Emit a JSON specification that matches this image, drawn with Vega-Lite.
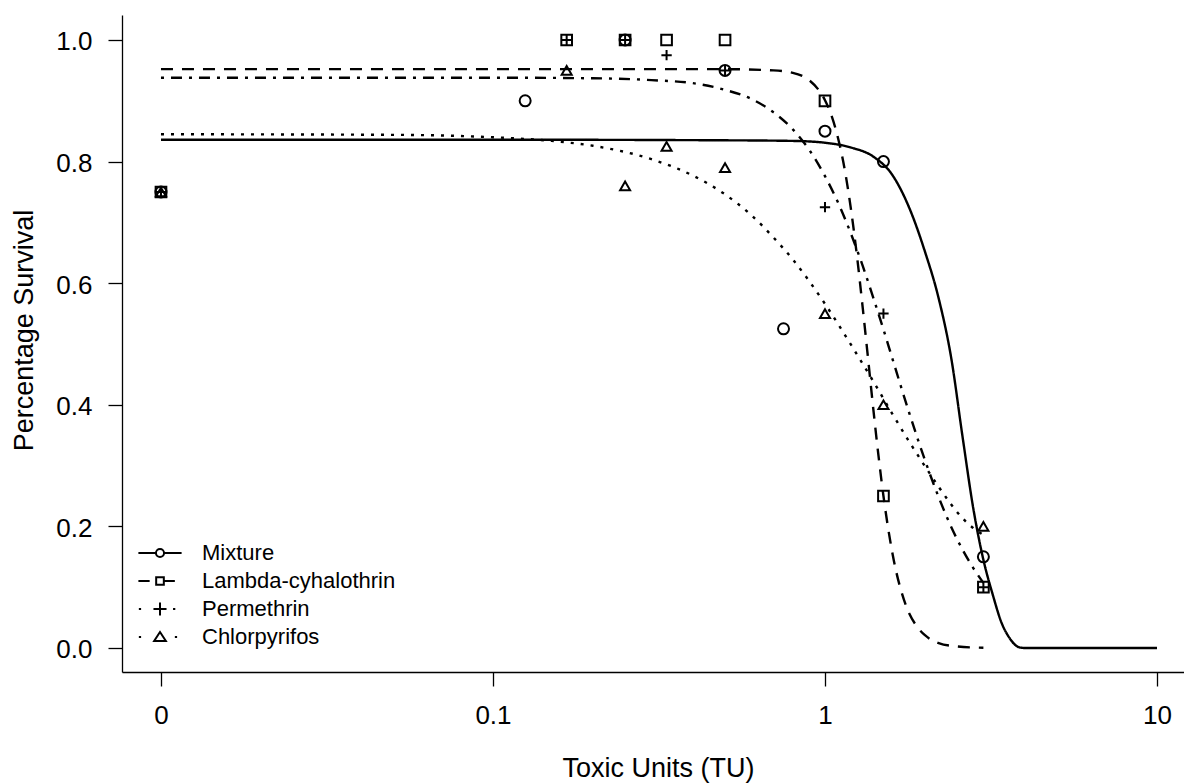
{
  "$schema": "https://vega.github.io/schema/vega-lite/v6.json",
  "width": 1062,
  "height": 657,
  "autosize": {"type": "none"},
  "padding": {"left": 122, "top": 15, "right": 0, "bottom": 111},
  "background": "white",
  "config": {
    "view": {"stroke": null},
    "font": "Liberation Sans",
    "axis": {
      "grid": false,
      "domainColor": "black",
      "domainWidth": 1.3,
      "tickColor": "black",
      "tickWidth": 1.3,
      "labelColor": "black",
      "titleColor": "black",
      "labelFont": "Liberation Sans",
      "titleFont": "Liberation Sans",
      "titleFontWeight": "normal",
      "labelFontSize": 26,
      "titleFontSize": 27
    },
    "legend": {"labelFont": "Liberation Sans"}
  },
  "datasets": {
    "curves": [
      {"series": "Mixture", "x": 0.01, "y": 0.836},
      {"series": "Mixture", "x": 0.1, "y": 0.836},
      {"series": "Mixture", "x": 0.5, "y": 0.835},
      {"series": "Mixture", "x": 0.8, "y": 0.834},
      {"series": "Mixture", "x": 1.0, "y": 0.831},
      {"series": "Mixture", "x": 1.2, "y": 0.823},
      {"series": "Mixture", "x": 1.4, "y": 0.808},
      {"series": "Mixture", "x": 1.6, "y": 0.777},
      {"series": "Mixture", "x": 1.8, "y": 0.722},
      {"series": "Mixture", "x": 2.0, "y": 0.652},
      {"series": "Mixture", "x": 2.2, "y": 0.575},
      {"series": "Mixture", "x": 2.4, "y": 0.477},
      {"series": "Mixture", "x": 2.6, "y": 0.345},
      {"series": "Mixture", "x": 2.8, "y": 0.228},
      {"series": "Mixture", "x": 3.0, "y": 0.145},
      {"series": "Mixture", "x": 3.2, "y": 0.088},
      {"series": "Mixture", "x": 3.4, "y": 0.042},
      {"series": "Mixture", "x": 3.6, "y": 0.016},
      {"series": "Mixture", "x": 3.85, "y": 0.001},
      {"series": "Mixture", "x": 4.0, "y": 0.0},
      {"series": "Mixture", "x": 10, "y": 0.0},
      {"series": "Lambda-cyhalothrin", "x": 0.01, "y": 0.952},
      {"series": "Lambda-cyhalothrin", "x": 0.1, "y": 0.952},
      {"series": "Lambda-cyhalothrin", "x": 0.5, "y": 0.952},
      {"series": "Lambda-cyhalothrin", "x": 0.7, "y": 0.95},
      {"series": "Lambda-cyhalothrin", "x": 0.8, "y": 0.946},
      {"series": "Lambda-cyhalothrin", "x": 0.9, "y": 0.933},
      {"series": "Lambda-cyhalothrin", "x": 0.95, "y": 0.92},
      {"series": "Lambda-cyhalothrin", "x": 1.0, "y": 0.901},
      {"series": "Lambda-cyhalothrin", "x": 1.05, "y": 0.873},
      {"series": "Lambda-cyhalothrin", "x": 1.1, "y": 0.834},
      {"series": "Lambda-cyhalothrin", "x": 1.15, "y": 0.783},
      {"series": "Lambda-cyhalothrin", "x": 1.2, "y": 0.718},
      {"series": "Lambda-cyhalothrin", "x": 1.25, "y": 0.642},
      {"series": "Lambda-cyhalothrin", "x": 1.3, "y": 0.558},
      {"series": "Lambda-cyhalothrin", "x": 1.35, "y": 0.473},
      {"series": "Lambda-cyhalothrin", "x": 1.4, "y": 0.39},
      {"series": "Lambda-cyhalothrin", "x": 1.45, "y": 0.315},
      {"series": "Lambda-cyhalothrin", "x": 1.5, "y": 0.25},
      {"series": "Lambda-cyhalothrin", "x": 1.6, "y": 0.153},
      {"series": "Lambda-cyhalothrin", "x": 1.75, "y": 0.071},
      {"series": "Lambda-cyhalothrin", "x": 1.9, "y": 0.034},
      {"series": "Lambda-cyhalothrin", "x": 2.0, "y": 0.021},
      {"series": "Lambda-cyhalothrin", "x": 2.2, "y": 0.008},
      {"series": "Lambda-cyhalothrin", "x": 2.5, "y": 0.0025},
      {"series": "Lambda-cyhalothrin", "x": 3.0, "y": 0.0004},
      {"series": "Permethrin", "x": 0.01, "y": 0.938},
      {"series": "Permethrin", "x": 0.1, "y": 0.938},
      {"series": "Permethrin", "x": 0.2, "y": 0.937},
      {"series": "Permethrin", "x": 0.3, "y": 0.934},
      {"series": "Permethrin", "x": 0.4, "y": 0.929},
      {"series": "Permethrin", "x": 0.5, "y": 0.918},
      {"series": "Permethrin", "x": 0.6, "y": 0.903},
      {"series": "Permethrin", "x": 0.7, "y": 0.881},
      {"series": "Permethrin", "x": 0.8, "y": 0.853},
      {"series": "Permethrin", "x": 0.9, "y": 0.818},
      {"series": "Permethrin", "x": 1.0, "y": 0.776},
      {"series": "Permethrin", "x": 1.1, "y": 0.73},
      {"series": "Permethrin", "x": 1.2, "y": 0.68},
      {"series": "Permethrin", "x": 1.3, "y": 0.628},
      {"series": "Permethrin", "x": 1.4, "y": 0.575},
      {"series": "Permethrin", "x": 1.5, "y": 0.524},
      {"series": "Permethrin", "x": 1.6, "y": 0.474},
      {"series": "Permethrin", "x": 1.8, "y": 0.384},
      {"series": "Permethrin", "x": 2.0, "y": 0.309},
      {"series": "Permethrin", "x": 2.2, "y": 0.248},
      {"series": "Permethrin", "x": 2.4, "y": 0.199},
      {"series": "Permethrin", "x": 2.6, "y": 0.161},
      {"series": "Permethrin", "x": 2.8, "y": 0.131},
      {"series": "Permethrin", "x": 3.0, "y": 0.107},
      {"series": "Chlorpyrifos", "x": 0.01, "y": 0.845},
      {"series": "Chlorpyrifos", "x": 0.05, "y": 0.844},
      {"series": "Chlorpyrifos", "x": 0.1, "y": 0.84},
      {"series": "Chlorpyrifos", "x": 0.15, "y": 0.834},
      {"series": "Chlorpyrifos", "x": 0.2, "y": 0.826},
      {"series": "Chlorpyrifos", "x": 0.3, "y": 0.804},
      {"series": "Chlorpyrifos", "x": 0.4, "y": 0.777},
      {"series": "Chlorpyrifos", "x": 0.5, "y": 0.746},
      {"series": "Chlorpyrifos", "x": 0.6, "y": 0.712},
      {"series": "Chlorpyrifos", "x": 0.7, "y": 0.675},
      {"series": "Chlorpyrifos", "x": 0.8, "y": 0.639},
      {"series": "Chlorpyrifos", "x": 0.9, "y": 0.602},
      {"series": "Chlorpyrifos", "x": 1.0, "y": 0.566},
      {"series": "Chlorpyrifos", "x": 1.2, "y": 0.498},
      {"series": "Chlorpyrifos", "x": 1.4, "y": 0.438},
      {"series": "Chlorpyrifos", "x": 1.6, "y": 0.384},
      {"series": "Chlorpyrifos", "x": 1.8, "y": 0.338},
      {"series": "Chlorpyrifos", "x": 2.0, "y": 0.299},
      {"series": "Chlorpyrifos", "x": 2.2, "y": 0.265},
      {"series": "Chlorpyrifos", "x": 2.4, "y": 0.236},
      {"series": "Chlorpyrifos", "x": 2.6, "y": 0.213},
      {"series": "Chlorpyrifos", "x": 2.8, "y": 0.197},
      {"series": "Chlorpyrifos", "x": 3.0, "y": 0.186}
    ],
    "points": [
      {"series": "Mixture", "x": 0.01, "y": 0.75},
      {"series": "Mixture", "x": 0.125, "y": 0.9},
      {"series": "Mixture", "x": 0.25, "y": 1.0},
      {"series": "Mixture", "x": 0.5, "y": 0.95},
      {"series": "Mixture", "x": 0.75, "y": 0.525},
      {"series": "Mixture", "x": 1.0, "y": 0.85},
      {"series": "Mixture", "x": 1.5, "y": 0.8},
      {"series": "Mixture", "x": 3.0, "y": 0.15},
      {"series": "Lambda-cyhalothrin", "x": 0.01, "y": 0.75},
      {"series": "Lambda-cyhalothrin", "x": 0.1667, "y": 1.0},
      {"series": "Lambda-cyhalothrin", "x": 0.25, "y": 1.0},
      {"series": "Lambda-cyhalothrin", "x": 0.3333, "y": 1.0},
      {"series": "Lambda-cyhalothrin", "x": 0.5, "y": 1.0},
      {"series": "Lambda-cyhalothrin", "x": 1.0, "y": 0.9},
      {"series": "Lambda-cyhalothrin", "x": 1.5, "y": 0.25},
      {"series": "Lambda-cyhalothrin", "x": 3.0, "y": 0.1},
      {"series": "Permethrin", "x": 0.01, "y": 0.75},
      {"series": "Permethrin", "x": 0.1667, "y": 1.0},
      {"series": "Permethrin", "x": 0.25, "y": 1.0},
      {"series": "Permethrin", "x": 0.3333, "y": 0.975},
      {"series": "Permethrin", "x": 0.5, "y": 0.95},
      {"series": "Permethrin", "x": 1.0, "y": 0.725},
      {"series": "Permethrin", "x": 1.5, "y": 0.55},
      {"series": "Permethrin", "x": 3.0, "y": 0.1},
      {"series": "Chlorpyrifos", "x": 0.01, "y": 0.75},
      {"series": "Chlorpyrifos", "x": 0.1667, "y": 0.95},
      {"series": "Chlorpyrifos", "x": 0.25, "y": 0.76},
      {"series": "Chlorpyrifos", "x": 0.3333, "y": 0.825},
      {"series": "Chlorpyrifos", "x": 0.5, "y": 0.79},
      {"series": "Chlorpyrifos", "x": 1.0, "y": 0.55},
      {"series": "Chlorpyrifos", "x": 1.5, "y": 0.4},
      {"series": "Chlorpyrifos", "x": 3.0, "y": 0.2}
    ]
  },
  "encoding": {
    "x": {
      "field": "x",
      "type": "quantitative",
      "scale": {"type": "log", "domain": [0.007631, 12.06], "nice": false, "zero": false},
      "axis": {
        "values": [0.01, 0.1, 1, 10],
        "format": "~g",
        "labelExpr": "datum.value < 0.05 ? '0' : datum.label",
        "tickSize": 14,
        "labelPadding": 16,
        "title": "Toxic Units (TU)",
        "titleX": 536,
        "titleY": 104,
        "titleAnchor": "middle",
        "titleAlign": "center",
        "titleBaseline": "alphabetic"
      }
    },
    "y": {
      "field": "y",
      "type": "quantitative",
      "scale": {"domain": [-0.0395, 1.0411], "nice": false, "zero": false},
      "axis": {
        "values": [0, 0.2, 0.4, 0.6, 0.8, 1.0],
        "format": ".1f",
        "tickSize": 14,
        "labelPadding": 16,
        "labelOffset": 2,
        "title": "Percentage Survival",
        "titleAngle": 270,
        "titleX": -90,
        "titleY": 315,
        "titleAlign": "center",
        "titleBaseline": "alphabetic"
      }
    }
  },
  "layer": [
    {
      "data": {"name": "curves"},
      "mark": {"type": "line", "color": "black", "strokeWidth": 2.4, "strokeCap": "butt", "interpolate": "monotone", "clip": true},
      "encoding": {
        "strokeDash": {
          "field": "series",
          "type": "nominal",
          "scale": {
            "domain": ["Mixture", "Lambda-cyhalothrin", "Permethrin", "Chlorpyrifos"],
            "range": [[1, 0], [12, 9], [3, 7, 11, 7], [3, 7]]
          },
          "legend": null
        }
      }
    },
    {
      "data": {"name": "points"},
      "mark": {"type": "point", "filled": false, "color": "black", "strokeWidth": 2, "opacity": 1},
      "encoding": {
        "shape": {
          "field": "series",
          "type": "nominal",
          "scale": {
            "domain": ["Mixture", "Lambda-cyhalothrin", "Permethrin", "Chlorpyrifos"],
            "range": ["circle", "square", "M-1,0L1,0M0,-1L0,1", "triangle-up"]
          },
          "legend": null
        },
        "size": {
          "field": "series",
          "type": "nominal",
          "scale": {
            "domain": ["Mixture", "Lambda-cyhalothrin", "Permethrin", "Chlorpyrifos"],
            "range": [121, 100, 196, 120]
          },
          "legend": null
        }
      }
    },
    {
      "data": {"name": "points"},
      "mark": {"type": "point", "filled": false, "color": "black", "strokeWidth": 2, "opacity": 0},
      "encoding": {
        "shape": {
          "field": "series",
          "type": "nominal",
          "scale": {
            "domain": ["Mixture", "Lambda-cyhalothrin", "Permethrin", "Chlorpyrifos"],
            "range": [
              "M-4.8,0L-0.9,0M0.9,0L4.8,0M0.9,0A0.9,0.9,0,1,1,-0.9,0A0.9,0.9,0,1,1,0.9,0",
              "M-4.8,0L-2.3,0M-0.85,-0.85L0.85,-0.85L0.85,0.85L-0.85,0.85ZM0.85,0L3.3,0",
              "M-4.7,0L-4.2,0M-1.45,0L1.45,0M0,-1.45L0,1.45M2.9,0L3.4,0",
              "M-4.7,0L-4.2,0M0,-1.1L-1.3,0.9L1.3,0.9ZM3.3,0L3.8,0"
            ]
          },
          "legend": {
            "orient": "none",
            "legendX": 27,
            "legendY": 527,
            "title": null,
            "padding": 0,
            "symbolSize": 81,
            "symbolStrokeWidth": 2,
            "symbolStrokeColor": "black",
            "symbolFillColor": "transparent",
            "symbolOpacity": 1,
            "labelFontSize": 22,
            "labelColor": "black",
            "labelOffset": 31,
            "labelLimit": 500,
            "rowPadding": 6,
            "encode": {"symbols": {"update": {"opacity": {"value": 1}, "stroke": {"value": "black"}, "fill": {"value": "transparent"}}}}
          }
        }
      }
    }
  ],
  "resolve": {"scale": {"shape": "independent", "size": "independent"}, "legend": {"shape": "independent"}}
}
